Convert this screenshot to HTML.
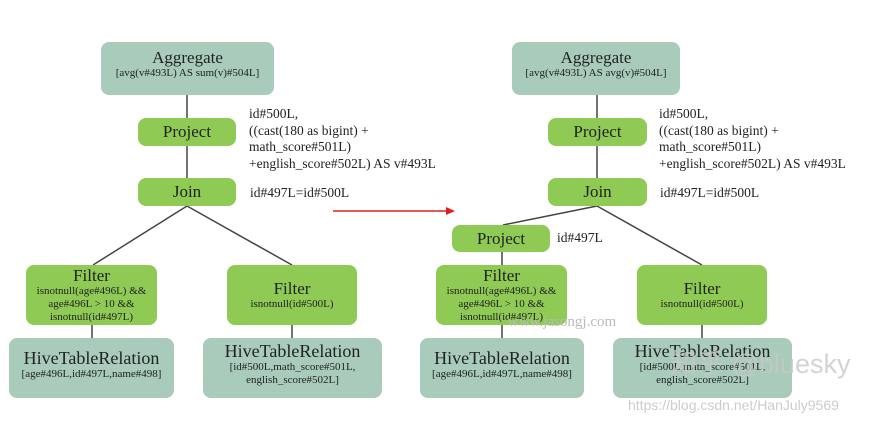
<!DOCTYPE html>
<html><head><style>
body{margin:0;width:877px;height:423px;background:#fff;position:relative;overflow:hidden;font-family:"Liberation Serif",serif;color:#222}
.b{position:absolute;border-radius:8px;text-align:center;box-sizing:border-box}
.g{background:#8fca55}
.t{background:#a8cbbb}
.h{font-size:17px;line-height:19px}
.s{font-size:11px;line-height:13px}
.l{position:absolute;font-size:13.5px;line-height:16.5px}
</style></head><body>
<svg width="877" height="423" style="position:absolute;left:0;top:0">
<g stroke="#444" stroke-width="1.5">
<line x1="187" y1="95" x2="187" y2="178"/>
<line x1="187" y1="206" x2="93" y2="265"/>
<line x1="187" y1="206" x2="292" y2="265"/>
<line x1="92" y1="325" x2="92" y2="338"/>
<line x1="292" y1="325" x2="292" y2="338"/>
<line x1="597" y1="95" x2="597" y2="178"/>
<line x1="597" y1="206" x2="503" y2="225"/>
<line x1="597" y1="206" x2="702" y2="265"/>
<line x1="502" y1="252" x2="502" y2="338"/>
<line x1="702" y1="325" x2="702" y2="338"/>
</g>
<line x1="333" y1="211" x2="448" y2="211" stroke="#e02020" stroke-width="1.5"/>
<polygon points="455,211 446,207 446,215" fill="#e02020"/>
</svg>
<div class="b t" style="left:101px;top:42px;width:173px;height:53px;padding-top:6px"><div class="h">Aggregate</div><div class="s">[avg(v#493L) AS sum(v)#504L]</div></div>
<div class="b g h" style="left:138px;top:118px;width:98px;height:28px;padding-top:4px">Project</div>
<div class="b g h" style="left:138px;top:178px;width:98px;height:28px;padding-top:4px">Join</div>
<div class="b g" style="left:26px;top:265px;width:131px;height:60px;padding-top:1px"><div class="h">Filter</div><div class="s">isnotnull(age#496L) &amp;&amp;<br>age#496L &gt; 10 &amp;&amp;<br>isnotnull(id#497L)</div></div>
<div class="b g" style="left:227px;top:265px;width:130px;height:60px;padding-top:14px"><div class="h">Filter</div><div class="s">isnotnull(id#500L)</div></div>
<div class="b t" style="left:9px;top:338px;width:165px;height:60px;padding-top:11px"><div class="h" style="font-size:18px">HiveTableRelation</div><div class="s">[age#496L,id#497L,name#498]</div></div>
<div class="b t" style="left:203px;top:338px;width:179px;height:60px;padding-top:4px"><div class="h" style="font-size:18px">HiveTableRelation</div><div class="s">[id#500L,math_score#501L,<br>english_score#502L]</div></div>
<div class="l" style="left:249px;top:106px">id#500L,<br>((cast(180 as bigint) +<br>math_score#501L)<br>+english_score#502L) AS v#493L</div>
<div class="l" style="left:250px;top:185px">id#497L=id#500L</div>

<div class="b t" style="left:512px;top:42px;width:168px;height:53px;padding-top:6px"><div class="h">Aggregate</div><div class="s">[avg(v#493L) AS avg(v)#504L]</div></div>
<div class="b g h" style="left:548px;top:118px;width:99px;height:28px;padding-top:4px">Project</div>
<div class="b g h" style="left:548px;top:178px;width:99px;height:28px;padding-top:4px">Join</div>
<div class="b g h" style="left:452px;top:225px;width:98px;height:27px;padding-top:4px">Project</div>
<div class="l" style="left:557px;top:230px">id#497L</div>
<div class="b g" style="left:436px;top:265px;width:131px;height:60px;padding-top:1px"><div class="h">Filter</div><div class="s">isnotnull(age#496L) &amp;&amp;<br>age#496L &gt; 10 &amp;&amp;<br>isnotnull(id#497L)</div></div>
<div class="b g" style="left:637px;top:265px;width:130px;height:60px;padding-top:14px"><div class="h">Filter</div><div class="s">isnotnull(id#500L)</div></div>
<div class="b t" style="left:420px;top:338px;width:164px;height:60px;padding-top:11px"><div class="h" style="font-size:18px">HiveTableRelation</div><div class="s">[age#496L,id#497L,name#498]</div></div>
<div class="b t" style="left:613px;top:338px;width:179px;height:60px;padding-top:4px"><div class="h" style="font-size:18px">HiveTableRelation</div><div class="s">[id#500L,math_score#501L,<br>english_score#502L]</div></div>
<div class="l" style="left:659px;top:106px">id#500L,<br>((cast(180 as bigint) +<br>math_score#501L)<br>+english_score#502L) AS v#493L</div>
<div class="l" style="left:660px;top:185px">id#497L=id#500L</div>
<div style="position:absolute;left:508px;top:314px;font-size:15px;color:#bbb">www.jasongj.com</div>
<div style="position:absolute;left:670px;top:342px;font-size:27px;color:rgba(200,200,200,0.8);font-family:'Liberation Sans','Noto Sans CJK SC',sans-serif">知乎 @bluesky</div>
<div style="position:absolute;left:628px;top:397px;font-size:14px;color:#ccc;font-family:'Liberation Sans',sans-serif">https://blog.csdn.net/HanJuly9569</div>
</body></html>
